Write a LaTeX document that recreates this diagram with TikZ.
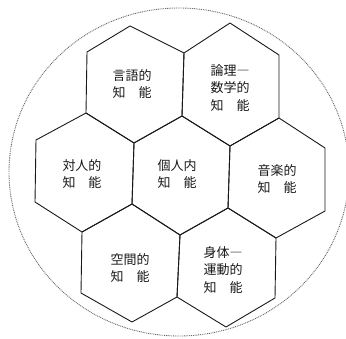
\documentclass[tikz,border=0pt]{standalone}
\usepackage{fontspec}
\newfontfamily\jp{Noto Sans CJK JP}
\begin{document}
\begin{tikzpicture}[x=1pt,y=-1pt,
  hex/.style={draw=black!90, line width=0.9pt, line join=round},
  lbl/.style={font=\jp\fontsize{13}{17.5}\selectfont, align=center, text=black!90, inner sep=0pt},
  rim/.style={draw=black!60, line width=0.9pt, dash pattern=on 0.9pt off 0.9pt}]
\useasboundingbox (0,0) rectangle (346,339);
\draw[rim] (179,172) ellipse [x radius=170pt, y radius=164pt];
% vertices
\coordinate (A1) at (130,26);  \coordinate (A2) at (230,23);
\coordinate (B0) at (87,52);   \coordinate (B1) at (184,53);  \coordinate (B2) at (279,55);
\coordinate (C0) at (86,113);  \coordinate (C1) at (182,116); \coordinate (C2) at (279,118);
\coordinate (D0) at (36,140);  \coordinate (D1) at (134,143); \coordinate (D2) at (230,146); \coordinate (D3) at (325,148);
\coordinate (E0) at (35,202);  \coordinate (E1) at (132,204); \coordinate (E2) at (228,208); \coordinate (E3) at (325,211);
\coordinate (F0) at (82,232);  \coordinate (F1) at (180,235); \coordinate (F2) at (276,238);
\coordinate (G0) at (81,293);  \coordinate (G1) at (177,297); \coordinate (G2) at (275,298);
\coordinate (H0) at (132,322); \coordinate (H1) at (226,327);
% hexagons
\draw[hex] (A1)--(B1)--(C1)--(D1)--(C0)--(B0)--cycle;
\draw[hex] (A2)--(B2)--(C2)--(D2)--(C1)--(B1)--cycle;
\draw[hex] (C0)--(D1)--(E1)--(F0)--(E0)--(D0)--cycle;
\draw[hex] (C1)--(D2)--(E2)--(F1)--(E1)--(D1)--cycle;
\draw[hex] (C2)--(D3)--(E3)--(F2)--(E2)--(D2)--cycle;
\draw[hex] (F0)--(E1)--(F1)--(G1)--(H0)--(G0)--cycle;
\draw[hex] (F1)--(E2)--(F2)--(G2)--(H1)--(G1)--cycle;
% labels
\node[lbl] (t1) at (132,84)  {言語的\\知　能};
\node[lbl] (t2) at (230,88)  {論理―\\数学的\\知　能};
\node[lbl] (t3) at (82,174)  {対人的\\知　能};
\node[lbl] (t4) at (177,174) {個人内\\知　能};
\node[lbl] (t5) at (277,179) {音楽的\\知　能};
\node[lbl] (t6) at (130,268) {空間的\\知　能};
\node[lbl] (t7) at (223,270) {身体―\\運動的\\知　能};
\end{tikzpicture}
\end{document}
